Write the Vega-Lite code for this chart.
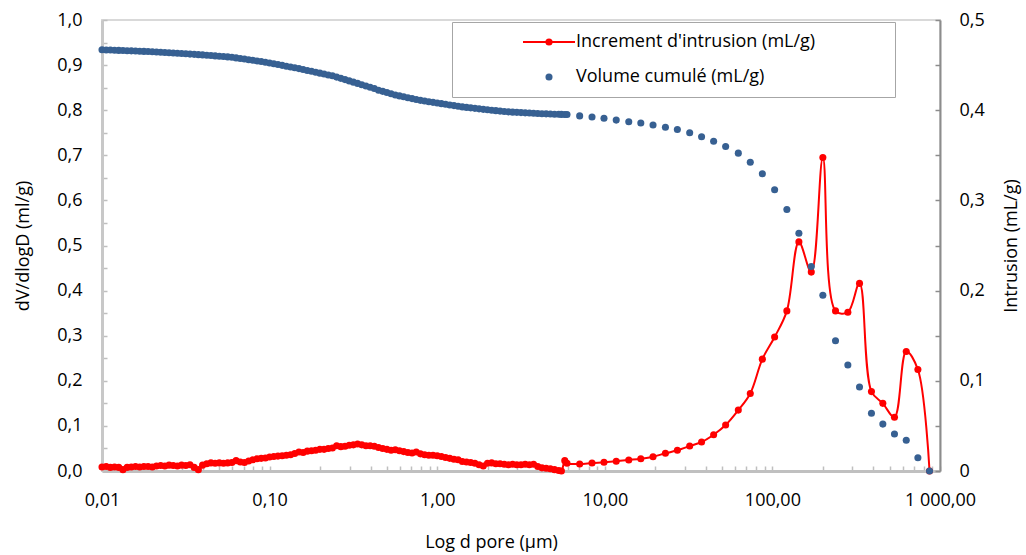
{
  "$schema": "https://vega.github.io/schema/vega-lite/v6.json",
  "width": 838,
  "height": 451,
  "autosize": {"type": "none"},
  "padding": {"left": 102, "top": 20, "right": 86, "bottom": 84},
  "background": "white",
  "config": {
    "font": "Open Sans",
    "view": {"stroke": "#d9d9d9", "strokeWidth": 2},
    "axis": {"labelFont": "Open Sans", "titleFont": "Open Sans", "labelFontSize": 18, "titleFontSize": 18, "titleFontWeight": "normal", "labelColor": "#000000", "titleColor": "#000000", "grid": false}
  },
  "data": {"values": [
    {"d": 0.01, "inc": 0.009, "cum": 0.467},
    {"d": 0.010593, "inc": 0.010, "cum": 0.4668},
    {"d": 0.01122, "inc": 0.008, "cum": 0.4667},
    {"d": 0.011885, "inc": 0.009, "cum": 0.4665},
    {"d": 0.012589, "inc": 0.008, "cum": 0.4663},
    {"d": 0.013335, "inc": 0.003, "cum": 0.4661},
    {"d": 0.014125, "inc": 0.008, "cum": 0.466},
    {"d": 0.014962, "inc": 0.009, "cum": 0.4658},
    {"d": 0.015849, "inc": 0.010, "cum": 0.4656},
    {"d": 0.016788, "inc": 0.009, "cum": 0.4654},
    {"d": 0.017783, "inc": 0.010, "cum": 0.4652},
    {"d": 0.018836, "inc": 0.010, "cum": 0.4651},
    {"d": 0.019953, "inc": 0.009, "cum": 0.4648},
    {"d": 0.021135, "inc": 0.011, "cum": 0.4646},
    {"d": 0.022387, "inc": 0.012, "cum": 0.4643},
    {"d": 0.023714, "inc": 0.011, "cum": 0.464},
    {"d": 0.025119, "inc": 0.013, "cum": 0.4637},
    {"d": 0.026607, "inc": 0.012, "cum": 0.4634},
    {"d": 0.028184, "inc": 0.011, "cum": 0.4631},
    {"d": 0.029854, "inc": 0.013, "cum": 0.4628},
    {"d": 0.031623, "inc": 0.012, "cum": 0.4625},
    {"d": 0.033497, "inc": 0.014, "cum": 0.4622},
    {"d": 0.035481, "inc": 0.008, "cum": 0.4619},
    {"d": 0.037584, "inc": 0.003, "cum": 0.4616},
    {"d": 0.039811, "inc": 0.013, "cum": 0.4613},
    {"d": 0.04217, "inc": 0.016, "cum": 0.4609},
    {"d": 0.044668, "inc": 0.018, "cum": 0.4606},
    {"d": 0.047315, "inc": 0.017, "cum": 0.4602},
    {"d": 0.050119, "inc": 0.018, "cum": 0.4599},
    {"d": 0.053088, "inc": 0.017, "cum": 0.4595},
    {"d": 0.056234, "inc": 0.018, "cum": 0.4591},
    {"d": 0.059566, "inc": 0.019, "cum": 0.4587},
    {"d": 0.063096, "inc": 0.023, "cum": 0.458},
    {"d": 0.066834, "inc": 0.020, "cum": 0.4574},
    {"d": 0.070795, "inc": 0.019, "cum": 0.4567},
    {"d": 0.074989, "inc": 0.022, "cum": 0.456},
    {"d": 0.079433, "inc": 0.025, "cum": 0.4553},
    {"d": 0.08414, "inc": 0.027, "cum": 0.4546},
    {"d": 0.089125, "inc": 0.028, "cum": 0.4539},
    {"d": 0.094406, "inc": 0.029, "cum": 0.4531},
    {"d": 0.1, "inc": 0.031, "cum": 0.4524},
    {"d": 0.10593, "inc": 0.032, "cum": 0.4515},
    {"d": 0.1122, "inc": 0.033, "cum": 0.4506},
    {"d": 0.11885, "inc": 0.034, "cum": 0.4497},
    {"d": 0.12589, "inc": 0.035, "cum": 0.4488},
    {"d": 0.13335, "inc": 0.036, "cum": 0.4479},
    {"d": 0.14125, "inc": 0.039, "cum": 0.447},
    {"d": 0.14962, "inc": 0.042, "cum": 0.4461},
    {"d": 0.15849, "inc": 0.041, "cum": 0.4451},
    {"d": 0.16788, "inc": 0.044, "cum": 0.4441},
    {"d": 0.17783, "inc": 0.045, "cum": 0.4431},
    {"d": 0.18836, "inc": 0.046, "cum": 0.4421},
    {"d": 0.19953, "inc": 0.048, "cum": 0.4411},
    {"d": 0.21135, "inc": 0.048, "cum": 0.4401},
    {"d": 0.22387, "inc": 0.050, "cum": 0.4391},
    {"d": 0.23714, "inc": 0.051, "cum": 0.4381},
    {"d": 0.25119, "inc": 0.056, "cum": 0.4367},
    {"d": 0.26607, "inc": 0.054, "cum": 0.4353},
    {"d": 0.28184, "inc": 0.055, "cum": 0.4339},
    {"d": 0.29854, "inc": 0.057, "cum": 0.4325},
    {"d": 0.31623, "inc": 0.058, "cum": 0.4311},
    {"d": 0.33497, "inc": 0.060, "cum": 0.4297},
    {"d": 0.35481, "inc": 0.058, "cum": 0.4283},
    {"d": 0.37584, "inc": 0.056, "cum": 0.4269},
    {"d": 0.39811, "inc": 0.056, "cum": 0.4255},
    {"d": 0.4217, "inc": 0.055, "cum": 0.424},
    {"d": 0.44668, "inc": 0.052, "cum": 0.4222},
    {"d": 0.47315, "inc": 0.050, "cum": 0.4209},
    {"d": 0.50119, "inc": 0.048, "cum": 0.4196},
    {"d": 0.53088, "inc": 0.046, "cum": 0.4183},
    {"d": 0.56234, "inc": 0.047, "cum": 0.41695},
    {"d": 0.59566, "inc": 0.045, "cum": 0.41585},
    {"d": 0.63096, "inc": 0.043, "cum": 0.41485},
    {"d": 0.66834, "inc": 0.041, "cum": 0.41385},
    {"d": 0.70795, "inc": 0.040, "cum": 0.41285},
    {"d": 0.74989, "inc": 0.042, "cum": 0.41185},
    {"d": 0.79433, "inc": 0.038, "cum": 0.4109},
    {"d": 0.8414, "inc": 0.036, "cum": 0.41015},
    {"d": 0.89125, "inc": 0.035, "cum": 0.40945},
    {"d": 0.94406, "inc": 0.035, "cum": 0.4087},
    {"d": 1.0, "inc": 0.034, "cum": 0.40795},
    {"d": 1.0593, "inc": 0.032, "cum": 0.40725},
    {"d": 1.122, "inc": 0.030, "cum": 0.4065},
    {"d": 1.1885, "inc": 0.028, "cum": 0.4058},
    {"d": 1.2589, "inc": 0.026, "cum": 0.4051},
    {"d": 1.3335, "inc": 0.025, "cum": 0.4044},
    {"d": 1.4125, "inc": 0.021, "cum": 0.40365},
    {"d": 1.4962, "inc": 0.020, "cum": 0.4031},
    {"d": 1.5849, "inc": 0.019, "cum": 0.4026},
    {"d": 1.6788, "inc": 0.017, "cum": 0.40205},
    {"d": 1.7783, "inc": 0.014, "cum": 0.4015},
    {"d": 1.8836, "inc": 0.011, "cum": 0.40095},
    {"d": 1.9953, "inc": 0.017, "cum": 0.40045},
    {"d": 2.1135, "inc": 0.018, "cum": 0.39995},
    {"d": 2.2387, "inc": 0.016, "cum": 0.3995},
    {"d": 2.3714, "inc": 0.016, "cum": 0.399},
    {"d": 2.5119, "inc": 0.015, "cum": 0.39855},
    {"d": 2.6607, "inc": 0.014, "cum": 0.39815},
    {"d": 2.8184, "inc": 0.015, "cum": 0.39785},
    {"d": 2.9854, "inc": 0.014, "cum": 0.3976},
    {"d": 3.1623, "inc": 0.014, "cum": 0.39735},
    {"d": 3.3497, "inc": 0.015, "cum": 0.39705},
    {"d": 3.5481, "inc": 0.014, "cum": 0.3968},
    {"d": 3.7584, "inc": 0.015, "cum": 0.39655},
    {"d": 3.9811, "inc": 0.010, "cum": 0.39635},
    {"d": 4.217, "inc": 0.007, "cum": 0.39615},
    {"d": 4.4668, "inc": 0.006, "cum": 0.39595},
    {"d": 4.7315, "inc": 0.005, "cum": 0.39575},
    {"d": 5.0119, "inc": 0.003, "cum": 0.3956},
    {"d": 5.3088, "inc": 0.001, "cum": 0.39545},
    {"d": 5.51, "inc": 0.0, "cum": 0.39535},
    {"d": 5.77, "inc": 0.023, "cum": 0.39525},
    {"d": 5.95, "inc": 0.017, "cum": 0.39515},
    {"d": 7.08, "inc": 0.0155, "cum": 0.3937},
    {"d": 8.39, "inc": 0.0177, "cum": 0.3925},
    {"d": 9.89, "inc": 0.0193, "cum": 0.391},
    {"d": 11.7, "inc": 0.0215, "cum": 0.389},
    {"d": 13.9, "inc": 0.0244, "cum": 0.3872},
    {"d": 16.4, "inc": 0.0273, "cum": 0.3858},
    {"d": 19.4, "inc": 0.0317, "cum": 0.3836},
    {"d": 23.0, "inc": 0.0392, "cum": 0.381},
    {"d": 27.1, "inc": 0.0459, "cum": 0.3786},
    {"d": 32.1, "inc": 0.0554, "cum": 0.375},
    {"d": 37.8, "inc": 0.0643, "cum": 0.3706},
    {"d": 44.6, "inc": 0.0805, "cum": 0.3655},
    {"d": 52.6, "inc": 0.102, "cum": 0.3598},
    {"d": 62.6, "inc": 0.135, "cum": 0.3524},
    {"d": 73.8, "inc": 0.172, "cum": 0.3422},
    {"d": 87.1, "inc": 0.248, "cum": 0.3296},
    {"d": 103.1, "inc": 0.297, "cum": 0.3118},
    {"d": 122, "inc": 0.355, "cum": 0.2899},
    {"d": 143.9, "inc": 0.508, "cum": 0.2636},
    {"d": 170.6, "inc": 0.441, "cum": 0.2267},
    {"d": 200, "inc": 0.695, "cum": 0.1948},
    {"d": 238, "inc": 0.355, "cum": 0.1444},
    {"d": 282, "inc": 0.352, "cum": 0.1175},
    {"d": 331, "inc": 0.416, "cum": 0.0931},
    {"d": 390, "inc": 0.176, "cum": 0.064},
    {"d": 456, "inc": 0.150, "cum": 0.052},
    {"d": 535, "inc": 0.119, "cum": 0.041},
    {"d": 629, "inc": 0.265, "cum": 0.034},
    {"d": 738, "inc": 0.225, "cum": 0.0147},
    {"d": 866, "inc": 0.0, "cum": 0.0}
  ]},
  "encoding": {
    "x": {
      "field": "d", "type": "quantitative",
      "scale": {"type": "log", "domain": [0.01, 1000], "nice": false},
      "axis": {
        "title": "Log d pore (µm)",
        "values": [0.01,0.02,0.03,0.04,0.05,0.06,0.07,0.08,0.09,0.1,0.2,0.3,0.4,0.5,0.6,0.7,0.8,0.9,1,2,3,4,5,6,7,8,9,10,20,30,40,50,60,70,80,90,100,200,300,400,500,600,700,800,900,1000],
        "labelExpr": "datum.value < 0.015 ? '0,01' : (abs(datum.value - 0.1) < 0.001 ? '0,10' : (abs(datum.value - 1) < 0.001 ? '1,00' : (abs(datum.value - 10) < 0.001 ? '10,00' : (abs(datum.value - 100) < 0.001 ? '100,00' : (abs(datum.value - 1000) < 0.001 ? '1 000,00' : '')))))",
        "labelFlush": false,
        "labelOverlap": false,
        "tickSize": -5,
        "tickColor": "#bfbfbf",
        "tickWidth": 1.5,
        "domainColor": "#c0c0c0",
        "domainWidth": 3,
        "labelPadding": 25,
        "titlePadding": 24,
        "titleX": 389
      }
    }
  },
  "layer": [
    {
      "mark": {"type": "line", "interpolate": "catmull-rom", "strokeWidth": 2, "point": {"filled": true, "size": 50, "opacity": 1}},
      "encoding": {
        "y": {
          "field": "inc", "type": "quantitative",
          "scale": {"domain": [0, 1], "nice": false, "zero": true},
          "axis": {
            "title": "dV/dlogD (ml/g)",
            "orient": "left",
            "values": [0,0.05,0.1,0.15,0.2,0.25,0.3,0.35,0.4,0.45,0.5,0.55,0.6,0.65,0.7,0.75,0.8,0.85,0.9,0.95,1.0],
            "labelExpr": "abs(datum.value*10 - round(datum.value*10)) < 0.001 ? replace(format(datum.value, '.1f'), '.', ',') : ''",
            "labelOverlap": false,
            "labelFlush": false,
            "tickSize": -5,
            "tickColor": "#bfbfbf",
            "tickWidth": 1.5,
            "domainColor": "#c8c8c8",
            "domainWidth": 3,
            "labelPadding": 25,
            "titlePadding": 24
          }
        },
        "color": {
          "datum": "Increment d'intrusion (mL/g)",
          "type": "nominal",
          "scale": {"domain": ["Increment d'intrusion (mL/g)", "Volume cumulé (mL/g)"], "range": ["#ff0000", "#376092"]},
          "legend": {
            "title": null,
            "orient": "none",
            "legendX": 350,
            "legendY": 2,
            "direction": "vertical",
            "strokeColor": "#a6a6a6",
            "fillColor": "#ffffff",
            "padding": 6,
            "symbolSize": 2704,
            "clipHeight": 28,
            "rowPadding": 7,
            "symbolOffset": 82,
            "labelOffset": 18,
            "labelFont": "Open Sans",
            "labelFontSize": 18,
            "labelColor": "#000000",
            "labelLimit": 400,
            "encode": {
              "entries": {
                "update": {
                  "width": {"value": 431}
                }
              },
              "symbols": {
                "update": {
                  "shape": {"signal": "datum.index === 1 ? 'circle' : 'M-1,0L1,0M-0.1,0A0.1,0.1,0,1,1,0.1,0A0.1,0.1,0,1,1,-0.1,0Z'"},
                  "size": {"signal": "datum.index === 1 ? 50 : 2704"},
                  "fill": {"signal": "datum.index === 1 ? '#376092' : '#ff0000'"},
                  "stroke": {"signal": "datum.index === 1 ? '#376092' : '#ff0000'"},
                  "strokeWidth": {"signal": "datum.index === 1 ? 0 : 2"},
                  "opacity": {"value": 1},
                  "fillOpacity": {"value": 1},
                  "strokeOpacity": {"value": 1}
                }
              }
            }
          }
        }
      }
    },
    {
      "mark": {"type": "point", "filled": true, "size": 50, "opacity": 1},
      "encoding": {
        "y": {
          "field": "cum", "type": "quantitative",
          "scale": {"domain": [0, 0.5], "nice": false, "zero": true},
          "axis": {
            "title": "Intrusion (mL/g)",
            "orient": "right",
            "values": [0,0.05,0.1,0.15,0.2,0.25,0.3,0.35,0.4,0.45,0.5],
            "labelExpr": "datum.value == 0 ? '0' : (abs(datum.value*10 - round(datum.value*10)) < 0.001 ? replace(format(datum.value, '.1f'), '.', ',') : '')",
            "labelOverlap": false,
            "labelFlush": false,
            "tickSize": -5,
            "tickColor": "#8c8c8c",
            "tickWidth": 1.5,
            "domainColor": "#8c8c8c",
            "domainWidth": 2,
            "labelPadding": 24,
            "titlePadding": 36,
            "titleAngle": 270
          }
        },
        "color": {"datum": "Volume cumulé (mL/g)", "type": "nominal"}
      }
    }
  ],
  "resolve": {"scale": {"y": "independent"}}
}
